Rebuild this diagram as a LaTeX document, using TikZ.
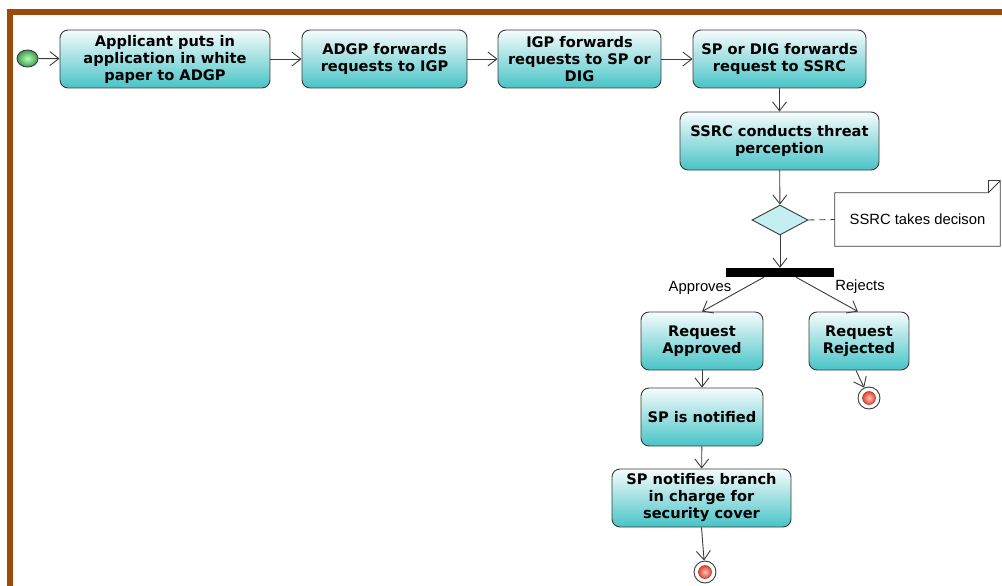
\documentclass[tikz,border=0pt]{standalone}
\usepackage{fontspec}
\setmainfont{DejaVu Sans}
\newfontfamily\labelfont{Liberation Sans}
\usetikzlibrary{shapes.geometric,arrows.meta}

\definecolor{framebrown}{HTML}{9B4A0B}
\definecolor{edgegray}{HTML}{3A3A3A}
\definecolor{boxtop}{HTML}{F6FCFC}
\definecolor{boxbottom}{HTML}{48C3C7}
\definecolor{diamondfill}{HTML}{C4EEF0}
\definecolor{startgreen}{HTML}{3E9A4E}
\definecolor{endred}{HTML}{E2472F}

\tikzset{
  action/.style={draw=edgegray, line width=0.9pt, rounded corners=8pt,
    top color=boxtop, bottom color=boxbottom, align=center,
    font=\bfseries\fontsize{14.6}{17}\selectfont, inner sep=0pt},
  flow/.style={draw=edgegray, line width=0.9pt,
    -{Straight Barb[length=9pt,width=14pt,line width=0.9pt]}},
  lbl/.style={font=\labelfont\fontsize{14.8}{16}\selectfont},
  finalring/.style={circle, draw=edgegray, fill=white, line width=0.9pt,
    minimum size=22pt, inner sep=0pt},
  finaldot/.style={circle, inner color=red!25!white, outer color=endred,
    draw=endred!70!black, line width=0.5pt, minimum size=13pt, inner sep=0pt},
}

\begin{document}
\begin{tikzpicture}[x=1pt,y=-1pt]
  \useasboundingbox (0,0) rectangle (1002,586);

  % page frame
  \fill[framebrown] (7,9) rectangle (1002,15);
  \fill[framebrown] (7,9) rectangle (13,586);

  % initial node
  \node[ellipse, draw=edgegray, line width=0.9pt, minimum width=21pt,
        minimum height=17pt, inner sep=0pt,
        inner color=green!30!white, outer color=startgreen] (start) at (27.5,58.5) {};

  % actions
  \node[action, minimum width=210pt, minimum height=58pt] (a1) at (165,59)
    {Applicant puts in\\application in white\\paper to ADGP};
  \node[action, minimum width=165pt, minimum height=58pt] (a2) at (384.5,59)
    {ADGP forwards\\requests to IGP};
  \node[action, minimum width=163pt, minimum height=58pt] (a3) at (579.5,59)
    {IGP forwards\\requests to SP or\\DIG};
  \node[action, minimum width=173pt, minimum height=58pt] (a4) at (779.5,59)
    {SP or DIG forwards\\request to SSRC};
  \node[action, minimum width=199pt, minimum height=58pt] (a5) at (779.5,141)
    {SSRC conducts threat\\perception};

  % decision
  \node[diamond, draw=edgegray, line width=0.9pt, fill=diamondfill,
        minimum width=56pt, minimum height=30pt, inner sep=0pt, aspect=1.87] (dec) at (780,220) {};

  % note with folded corner
  \node[minimum width=165pt, minimum height=53pt, inner sep=0pt] (note) at (917.5,219.5) {};
  \draw[edgegray, line width=0.8pt, fill=white]
    (note.north west) -- ([xshift=-12pt]note.north east) -- ([yshift=12pt]note.north east)
    -- (note.south east) -- (note.south west) -- cycle;
  \draw[edgegray, line width=0.8pt]
    ([xshift=-12pt]note.north east) -- ([xshift=-12pt,yshift=12pt]note.north east)
    -- ([yshift=12pt]note.north east);
  \node[lbl, inner sep=0pt] (notetext) at (note.center) {SSRC takes decison};
  \draw[edgegray, line width=0.9pt, dash pattern=on 6pt off 5pt] (dec.east) -- (note.west);

  % fork bar
  \node[fill=black, minimum width=108pt, minimum height=9pt, inner sep=0pt] (bar) at (780,272.5) {};

  % outcomes
  \node[action, minimum width=122pt, minimum height=58pt] (app) at (702,341)
    {Request\\Approved};
  \node[action, minimum width=100pt, minimum height=58pt] (rej) at (859,341)
    {Request\\Rejected};
  \node[action, minimum width=122pt, minimum height=58pt] (notif) at (702,417)
    {SP is notified};
  \node[action, minimum width=179pt, minimum height=58pt] (branch) at (701.5,498)
    {SP notifies branch\\in charge for\\security cover};

  % final nodes
  \node[finalring] (end1) at (869,398) {};
  \node[finaldot] (dot1) at (end1) {};
  \node[finalring] (end2) at (705,572) {};
  \node[finaldot] (dot2) at (end2) {};

  % connectors
  \draw[flow] (start) -- (a1);
  \draw[flow] (a1) -- (a2);
  \draw[flow] (a2) -- (a3);
  \draw[flow] (a3) -- (a4);
  \draw[flow] (a4) -- (a5);
  \draw[flow] (a5) -- (dec);
  \draw[flow] (dec) -- (bar);
  \draw[flow] ([xshift=-16pt]bar.south) -- (app.north);
  \draw[flow] ([xshift=16pt]bar.south) -- ([xshift=-1pt]rej.north);
  \draw[flow] (app) -- (notif);
  \draw[flow] (notif) -- (branch);
  \draw[flow] ([xshift=-3pt]rej.south) -- (end1);
  \draw[flow] (branch.south) -- (end2);

  % guard labels
  \node[lbl] (lapp) at (700,288) {Approves};
  \node[lbl] (lrej) at (860,286.5) {Rejects};
\end{tikzpicture}
\end{document}
